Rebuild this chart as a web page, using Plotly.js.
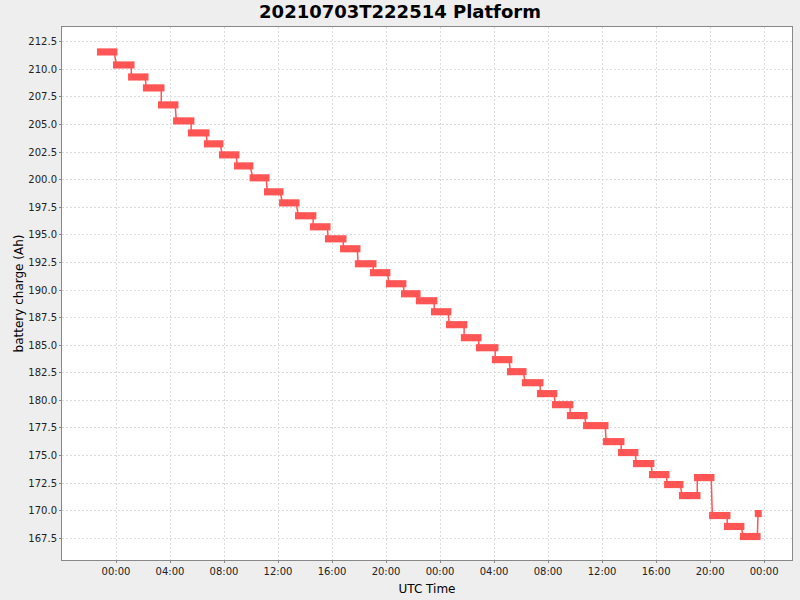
<!DOCTYPE html>
<html>
<head>
<meta charset="utf-8">
<script src="https://cdn.plot.ly/plotly-3.0.1.min.js"></script>
<style>
  html, body { margin: 0; padding: 0; background: #eeeeee; }
  #chart { width: 800px; height: 600px; }
</style>
</head>
<body>
<div id="chart"></div>
<script>
// Interval start / end times of each constant-charge step and the charge (Ah)
const segStart = [
  '2021-07-03 22:50', '2021-07-04 00:01', '2021-07-04 01:08', '2021-07-04 02:14', '2021-07-04 03:21',
  '2021-07-04 04:28', '2021-07-04 05:34', '2021-07-04 06:45', '2021-07-04 07:52', '2021-07-04 08:59',
  '2021-07-04 10:08', '2021-07-04 11:12', '2021-07-04 12:19', '2021-07-04 13:30', '2021-07-04 14:36',
  '2021-07-04 15:43', '2021-07-04 16:50', '2021-07-04 17:56', '2021-07-04 19:03', '2021-07-04 20:14',
  '2021-07-04 21:21', '2021-07-04 22:27', '2021-07-04 23:34', '2021-07-05 00:41', '2021-07-05 01:47',
  '2021-07-05 02:54', '2021-07-05 04:05', '2021-07-05 05:12', '2021-07-05 06:18', '2021-07-05 07:25',
  '2021-07-05 08:32', '2021-07-05 09:38', '2021-07-05 10:50', '2021-07-05 12:18', '2021-07-05 13:25',
  '2021-07-05 14:32', '2021-07-05 15:43', '2021-07-05 16:50', '2021-07-05 17:56', '2021-07-05 19:03',
  '2021-07-05 20:10', '2021-07-05 21:16', '2021-07-05 22:27', '2021-07-05 23:33'
];
const segEnd = [
  '2021-07-03 23:52', '2021-07-04 01:08', '2021-07-04 02:10', '2021-07-04 03:21', '2021-07-04 04:23',
  '2021-07-04 05:34', '2021-07-04 06:41', '2021-07-04 07:43', '2021-07-04 08:54', '2021-07-04 09:56',
  '2021-07-04 11:08', '2021-07-04 12:10', '2021-07-04 13:21', '2021-07-04 14:36', '2021-07-04 15:39',
  '2021-07-04 16:50', '2021-07-04 17:52', '2021-07-04 19:03', '2021-07-04 20:05', '2021-07-04 21:16',
  '2021-07-04 22:19', '2021-07-04 23:34', '2021-07-05 00:36', '2021-07-05 01:47', '2021-07-05 02:50',
  '2021-07-05 04:05', '2021-07-05 05:07', '2021-07-05 06:10', '2021-07-05 07:25', '2021-07-05 08:27',
  '2021-07-05 09:38', '2021-07-05 10:41', '2021-07-05 12:14', '2021-07-05 13:25', '2021-07-05 14:27',
  '2021-07-05 15:38', '2021-07-05 16:45', '2021-07-05 17:47', '2021-07-05 19:03', '2021-07-05 20:05',
  '2021-07-05 21:16', '2021-07-05 22:18', '2021-07-05 23:30', '2021-07-05 23:35'
];
const charge = [
  211.58, 210.40, 209.31, 208.32, 206.78, 205.33, 204.24, 203.25, 202.25, 201.25,
  200.17, 198.90, 197.90, 196.73, 195.73, 194.64, 193.74, 192.38, 191.57, 190.57,
  189.66, 189.03, 188.03, 186.86, 185.68, 184.77, 183.69, 182.60, 181.60, 180.61,
  179.61, 178.62, 177.71, 176.26, 175.27, 174.27, 173.27, 172.37, 171.37, 173.00,
  169.56, 168.57, 167.66, 169.74
];
const yTicks = [167.5, 170.0, 172.5, 175.0, 177.5, 180.0, 182.5, 185.0, 187.5, 190.0, 192.5, 195.0, 197.5, 200.0, 202.5, 205.0, 207.5, 210.0, 212.5];
const xTicks = ['2021-07-04 00:00', '2021-07-04 04:00', '2021-07-04 08:00', '2021-07-04 12:00', '2021-07-04 16:00', '2021-07-04 20:00',
  '2021-07-05 00:00', '2021-07-05 04:00', '2021-07-05 08:00', '2021-07-05 12:00', '2021-07-05 16:00', '2021-07-05 20:00', '2021-07-06 00:00'];
const xTickText = xTicks.map(s => s.slice(11));

const toMs = s => new Date(s.replace(' ', 'T') + ':00Z').getTime();

// connectors: end of one step to start of the next
const thinX = [], thinY = [];
for (let i = 0; i + 1 < charge.length; i++) {
  thinX.push(segEnd[i], segStart[i + 1], null);
  thinY.push(charge[i], charge[i + 1], null);
}
// step bars: start (base) + duration
const durations = segStart.map((s, i) => toMs(segEnd[i]) - toMs(s));

const red = '#ff5555';
const traces = [
  { type: 'bar', orientation: 'h', y: charge, x: durations, base: segStart, width: 0.06,
    marker: { color: red, line: { color: red, width: 6.5 } }, hoverinfo: 'skip', showlegend: false },
  { x: thinX, y: thinY, type: 'scatter', mode: 'lines', connectgaps: false, line: { color: red, width: 1.5 }, hoverinfo: 'skip', showlegend: false }
];

const font = 'DejaVu Sans, sans-serif';
const layout = {
  width: 800, height: 600,
  paper_bgcolor: '#eeeeee', plot_bgcolor: '#ffffff',
  margin: { l: 62, r: 8, t: 27, b: 40, pad: 0 },
  title: { text: '<b>20210703T222514 Platform</b>', font: { family: font, size: 18, color: '#000' }, x: 0.5, xanchor: 'center', y: 0.98, yanchor: 'middle' },
  xaxis: {
    type: 'date',
    range: ['2021-07-03 20:00', '2021-07-06 02:04'],
    tickvals: xTicks, ticktext: xTickText,
    ticks: 'outside', ticklen: 2, tickcolor: '#888888',
    tickfont: { family: font, size: 10, color: '#222' },
    showgrid: true, gridcolor: '#dcdcdc', griddash: '2px,2px', gridwidth: 1,
    showline: true, linecolor: '#888888', linewidth: 1, mirror: true,
    zeroline: false,
    title: { text: 'UTC Time', font: { family: font, size: 12, color: '#000' }, standoff: 8 }
  },
  yaxis: {
    range: [165.53, 213.84],
    tickvals: yTicks, ticktext: yTicks.map(v => v.toFixed(1)),
    ticks: 'outside', ticklen: 2, tickcolor: '#888888',
    tickfont: { family: font, size: 10, color: '#222' },
    showgrid: true, gridcolor: '#dcdcdc', griddash: '2px,2px', gridwidth: 1,
    showline: true, linecolor: '#888888', linewidth: 1, mirror: true,
    zeroline: false,
    title: { text: 'battery charge (Ah)', font: { family: font, size: 12, color: '#000' }, standoff: 2 }
  }
};

Plotly.newPlot('chart', traces, layout, { staticPlot: true, displayModeBar: false });
</script>
</body>
</html>
